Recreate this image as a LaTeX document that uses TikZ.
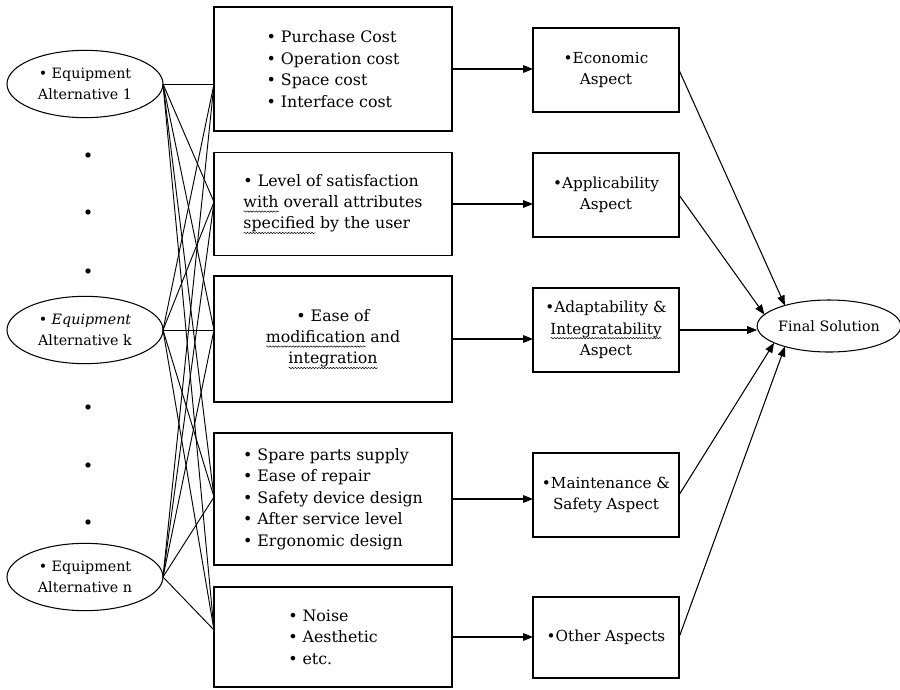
\documentclass[tikz,border=0pt]{standalone}
\usepackage{fontspec}
\setmainfont{DejaVu Serif}
\usetikzlibrary{shapes, arrows.meta, positioning, calc, decorations.pathmorphing}
\newlength{\squiglen}
\newcommand{\squig}[1]{\settowidth{\squiglen}{#1}\rlap{\tikz[baseline=0pt]\draw[line width=0.4pt, decorate, decoration={snake, amplitude=0.6pt, segment length=2.5pt}] (0pt,-3.4pt) -- (\squiglen,-3.4pt);}#1}

\begin{document}
\begin{tikzpicture}[x=0.3mm, y=-0.3mm,
  midbox/.style={draw, line width=1pt, inner sep=0pt, outer sep=0pt, minimum width=71.4mm, align=left, font=\fontsize{13.5}{18.3}\selectfont},
  aspectbox/.style={draw, line width=1pt, inner sep=0pt, outer sep=0pt, minimum width=43.8mm, minimum height=25.2mm, align=center, font=\fontsize{13}{18.3}\selectfont},
  altnode/.style={draw, ellipse, line width=0.9pt, inner sep=0pt, outer sep=0pt, minimum width=46.8mm, minimum height=20.2mm, align=center, font=\fontsize{12.2}{18}\selectfont},
  link/.style={line width=0.8pt},
  toarrow/.style={line width=0.9pt, -{Triangle[length=8.5pt, width=6.5pt]}}]
  \useasboundingbox (0,0) rectangle (900,689);

  % Alternatives
  \node[altnode] (e1) at (85,84) {• Equipment\\Alternative 1};
  \node[altnode] (ek) at (85,330) {• \textit{Equipment}\\Alternative k};
  \node[altnode] (en) at (85,577) {• Equipment\\Alternative n};
  \foreach \y in {155,212,271,407,465,522}
    \fill (88,\y) circle (0.8mm);

  % Criteria
  \node[midbox, minimum height=37.2mm] (b1) at (333,69) {• Purchase Cost\\• Operation cost\\• Space cost\\• Interface cost};
  \node[midbox, minimum height=30.9mm] (b2) at (333,204) {• Level of satisfaction\\\squig{with} overall attributes\\\squig{specified} by the user};
  \node[midbox, minimum height=37.8mm, align=center] (b3) at (333,339) {• Ease of\\\squig{modification} and\\\squig{integration}};
  \node[midbox, minimum height=39.6mm] (b4) at (333,499) {• Spare parts supply\\• Ease of repair\\• Safety device design\\• After service level\\• Ergonomic design};
  \node[midbox, minimum height=30mm] (b5) at (333,637) {• Noise\\• Aesthetic\\• etc.};

  % Aspects
  \node[aspectbox] (r1) at (606,70) {•Economic\\Aspect};
  \node[aspectbox] (r2) at (606,195) {•Applicability\\Aspect};
  \node[aspectbox] (r3) at (606,330) {•Adaptability \&\\\squig{Integratability}\\Aspect};
  \node[aspectbox] (r4) at (606,495) {•Maintenance \&\\Safety Aspect};
  \node[aspectbox, minimum height=24.3mm] (r5) at (606,637.5) {•Other Aspects};

  % Final
  \node[altnode, minimum width=40.5mm, minimum height=15.6mm] (fin) at (829,326) {Final Solution};

  % Links alternatives -> criteria
  \coordinate (in1) at (214,84);
  \coordinate (in2) at (214,202);
  \coordinate (in3) at (214,330);
  \coordinate (in4) at (214,497);
  \coordinate (in5) at (214,630);
  \foreach \e in {e1,ek,en}
    \foreach \i in {1,...,5}
      \draw[link] (\e.east) -- (in\i);

  % Criteria -> aspects
  \foreach \i in {1,...,5}
    \draw[toarrow] (b\i.east) -- (b\i.east -| r\i.west);

  % Aspects -> final
  \draw[toarrow] (r1.east) -- (fin.155);
  \draw[toarrow] (r2.east) -- (fin.170);
  \draw[toarrow] (r3.east) -- (r3.east -| fin.west);
  \draw[toarrow] (r4.east) -- (fin.197);
  \draw[toarrow] (r5.east) -- (fin.205);
\end{tikzpicture}
\end{document}
